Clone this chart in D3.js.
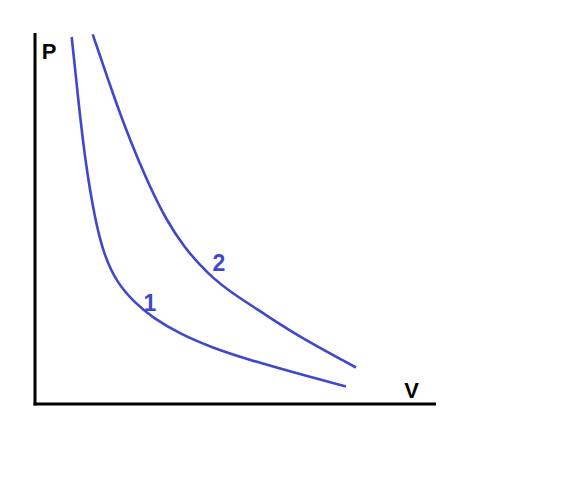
<!DOCTYPE html>
<html>
<head>
<meta charset="utf-8">
<script src="https://cdn.jsdelivr.net/npm/d3@7"></script>
<style>
  html, body { margin: 0; padding: 0; background: #fff; }
</style>
</head>
<body>
<div id="chart"></div>
<script>
// curve 1 (lower isotherm) and curve 2 (upper isotherm)
const vol1 = [36.7, 43.3, 50, 60, 69, 82, 100, 118, 145, 178, 215, 255, 311];
const pres1 = [367, 304, 244, 184, 149, 121, 101, 86, 70, 56, 44, 32.5, 17.5];
const vol2 = [57.7, 80, 95, 111.7, 131, 150, 165, 178, 195, 228, 262, 321];
const pres2 = [369.7, 304, 264, 224, 184, 156, 139, 126, 112.3, 91, 68.5, 36.5];
const curveLabels = ["1", "2"];
const labelVol = [115, 184];
const labelPres = [93, 133];

const W = 565, H = 491;
const CURVE_COLOR = "#3f48cc";

const svg = d3.select("#chart").append("svg")
    .attr("width", W)
    .attr("height", H);

const x = d3.scaleLinear().domain([0, 400]).range([35, 435]);
const y = d3.scaleLinear().domain([0, 370]).range([404, 34]);

// axes: plain black lines, no ticks
svg.append("line")
    .attr("x1", x(0)).attr("y1", y(0) + 1.5)
    .attr("x2", x(0)).attr("y2", y(371))
    .attr("stroke", "#000").attr("stroke-width", 3);
svg.append("line")
    .attr("x1", x(0) - 1.5).attr("y1", y(0))
    .attr("x2", x(401)).attr("y2", y(0))
    .attr("stroke", "#000").attr("stroke-width", 3);

svg.append("text")
    .attr("x", 49).attr("y", 59)
    .attr("text-anchor", "middle")
    .style("font-family", "'Liberation Sans', Arial, sans-serif")
    .style("font-weight", "bold")
    .style("font-size", "22px")
    .text("P");
svg.append("text")
    .attr("x", 411.5).attr("y", 398)
    .attr("text-anchor", "middle")
    .style("font-family", "'Liberation Sans', Arial, sans-serif")
    .style("font-weight", "bold")
    .style("font-size", "22px")
    .text("V");

const line = d3.line()
    .x(d => x(d[0]))
    .y(d => y(d[1]))
    .curve(d3.curveBasis);

[[vol1, pres1], [vol2, pres2]].forEach(([vs, ps]) => {
    svg.append("path")
        .datum(d3.zip(vs, ps))
        .attr("d", line)
        .attr("fill", "none")
        .attr("stroke", CURVE_COLOR)
        .attr("stroke-width", 2.6)
        .attr("stroke-linecap", "butt");
});

curveLabels.forEach((t, i) => {
    svg.append("text")
        .attr("x", x(labelVol[i])).attr("y", y(labelPres[i]))
        .attr("text-anchor", "middle")
        .style("font-family", "'Liberation Sans', Arial, sans-serif")
        .style("font-weight", "bold")
        .style("font-size", "23px")
        .attr("fill", CURVE_COLOR)
        .text(t);
});
</script>
</body>
</html>
